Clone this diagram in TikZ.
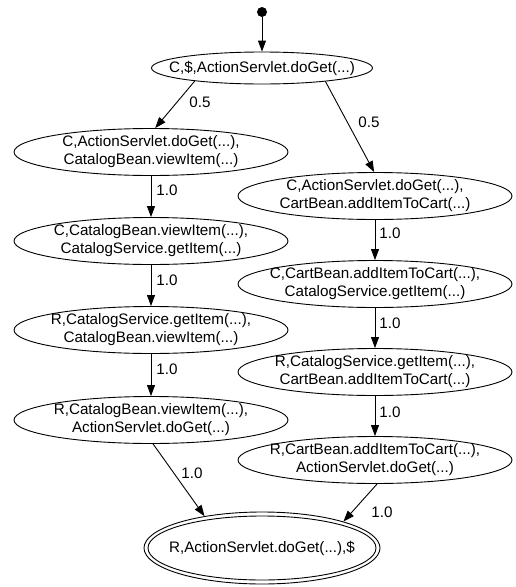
\documentclass[tikz,border=0pt]{standalone}
\usepackage{fontspec}
\setmainfont{Liberation Sans}
\usetikzlibrary{shapes.geometric,arrows.meta}
\begin{document}
\begin{tikzpicture}[x=1pt,y=-1pt,
  every node/.style={font=\fontsize{15.2}{18}\selectfont},
  lbl/.style={inner sep=0pt,align=center},
  st/.style={ellipse,draw,line width=0.9pt,inner sep=0pt,minimum width=274pt,minimum height=47pt},
  topst/.style={ellipse,draw,line width=0.9pt,inner sep=0pt,minimum width=221pt,minimum height=32pt},
  finst/.style={ellipse,draw,line width=0.9pt,inner sep=0pt,minimum width=236pt,minimum height=72pt},
  edge/.style={line width=0.9pt,-{Triangle[length=11pt,width=8pt]}},
  lab/.style={inner sep=0pt}]
\useasboundingbox (0,0) rectangle (516,587);
\node[circle,fill,inner sep=0pt,minimum size=10pt] (s) at (262,12) {};
\node[topst,label={[lbl]center:{C,\$,ActionServlet.doGet(...)}}] (n0) at (262,68) {};
\node[st,label={[lbl]center:{C,ActionServlet.doGet(...),\\CatalogBean.viewItem(...)}}] (l1) at (151,152) {};
\node[st,label={[lbl]center:{C,CatalogBean.viewItem(...),\\CatalogService.getItem(...)}}] (l2) at (151,241) {};
\node[st,label={[lbl]center:{R,CatalogService.getItem(...),\\CatalogBean.viewItem(...)}}] (l3) at (151,330) {};
\node[st,label={[lbl]center:{R,CatalogBean.viewItem(...),\\ActionServlet.doGet(...)}}] (l4) at (151,420) {};
\node[st,label={[lbl]center:{C,ActionServlet.doGet(...),\\CartBean.addItemToCart(...)}}] (r1) at (375,196) {};
\node[st,label={[lbl]center:{C,CartBean.addItemToCart(...),\\CatalogService.getItem(...)}}] (r2) at (375,284) {};
\node[st,label={[lbl]center:{R,CatalogService.getItem(...),\\CartBean.addItemToCart(...)}}] (r3) at (375,372) {};
\node[st,label={[lbl]center:{R,CartBean.addItemToCart(...),\\ActionServlet.doGet(...)}}] (r4) at (375,460) {};
\node[finst,label={[lbl]center:{R,ActionServlet.doGet(...),\$}}] (f) at (262,548) {};
\draw[line width=0.9pt] (f.center) ellipse [x radius=114, y radius=32];
\draw[edge] (s) -- (n0);
\draw[edge] (n0.191) -- (l1.80);
\draw[edge] (n0.348) -- (r1.92);
\draw[edge] (l1) -- (l2);
\draw[edge] (l2) -- (l3);
\draw[edge] (l3) -- (l4);
\draw[edge] (r1) -- (r2);
\draw[edge] (r2) -- (r3);
\draw[edge] (r3) -- (r4);
\draw[edge] (l4.-85) -- (f.151);
\draw[edge] (r4.-85) -- (f.18);
\node[lab] (e1) at (200,102) {0.5};
\node[lab] (e2) at (369,122) {0.5};
\node[lab] (e3) at (167,190) {1.0};
\node[lab] (e4) at (167,280) {1.0};
\node[lab] (e5) at (167,369) {1.0};
\node[lab] (e6) at (192,473) {1.0};
\node[lab] (e7) at (390,233) {1.0};
\node[lab] (e8) at (390,323) {1.0};
\node[lab] (e9) at (390,412) {1.0};
\node[lab] (e10) at (382,512) {1.0};
\end{tikzpicture}
\end{document}
